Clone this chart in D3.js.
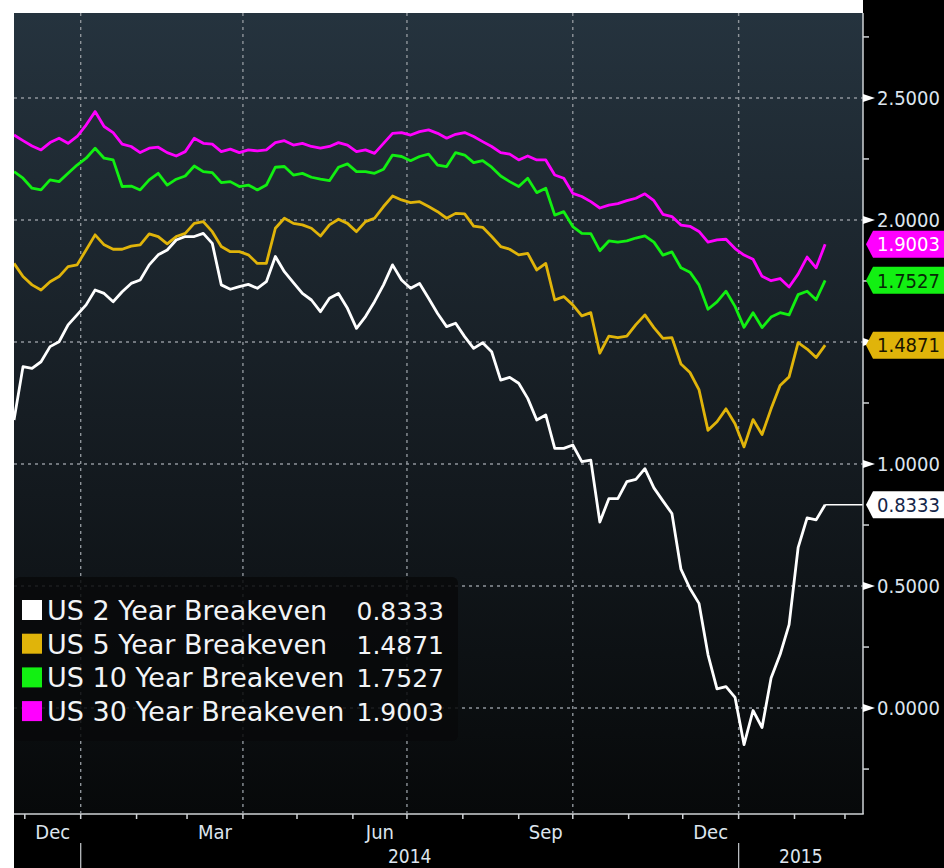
<!DOCTYPE html>
<html>
<head>
<meta charset="utf-8">
<script src="https://cdn.jsdelivr.net/npm/d3@7"></script>
<style>
body { margin: 0; background: #fff; }
svg { display: block; }
</style>
</head>
<body>
<svg id="drawing_region"></svg>
<script>
// values, one every 5 days from firstDate
const seriesNames = ['US 2 Year Breakeven', 'US 5 Year Breakeven', 'US 10 Year Breakeven', 'US 30 Year Breakeven'];
const firstDate = '2013-11-25';
const stepDays = 5;

const us2y = [
    1.180, 1.399, 1.392, 1.419, 1.481, 1.501, 1.570, 1.611, 1.652, 1.713,
    1.699, 1.665, 1.706, 1.740, 1.754, 1.816, 1.857, 1.877, 1.918, 1.932,
    1.932, 1.945, 1.904, 1.734, 1.716, 1.727, 1.736, 1.720, 1.747, 1.850,
    1.788, 1.743, 1.699, 1.672, 1.624, 1.679, 1.699, 1.638, 1.556, 1.604,
    1.665, 1.734, 1.816, 1.754, 1.720, 1.740, 1.679, 1.617, 1.563, 1.577,
    1.522, 1.474, 1.497, 1.460, 1.344, 1.355, 1.331, 1.269, 1.180, 1.201,
    1.064, 1.064, 1.078, 1.010, 1.016, 0.762, 0.858, 0.858, 0.928, 0.937,
    0.981, 0.902, 0.849, 0.797, 0.569, 0.490, 0.429, 0.219, 0.079, 0.088,
    0.044, -0.150, -0.010, -0.080, 0.123, 0.219, 0.342, 0.657, 0.779, 0.771, 0.8333
];
const us5y = [
    1.822, 1.768, 1.734, 1.713, 1.747, 1.768, 1.809, 1.816, 1.877, 1.939,
    1.898, 1.880, 1.880, 1.893, 1.898, 1.943, 1.932, 1.902, 1.932, 1.945,
    1.986, 1.993, 1.952, 1.891, 1.870, 1.870, 1.857, 1.822, 1.822, 1.966,
    2.007, 1.986, 1.980, 1.966, 1.934, 1.980, 2.003, 1.986, 1.952, 1.993,
    2.007, 2.055, 2.098, 2.082, 2.071, 2.075, 2.055, 2.034, 2.007, 2.027,
    2.025, 1.975, 1.970, 1.932, 1.891, 1.880, 1.857, 1.863, 1.795, 1.822,
    1.672, 1.686, 1.652, 1.607, 1.620, 1.454, 1.524, 1.518, 1.524, 1.571,
    1.611, 1.559, 1.515, 1.518, 1.410, 1.375, 1.305, 1.138, 1.173, 1.226,
    1.165, 1.070, 1.182, 1.121, 1.226, 1.322, 1.357, 1.497, 1.471, 1.436, 1.4871
];
const us10y = [
    2.198, 2.171, 2.130, 2.123, 2.164, 2.157, 2.191, 2.225, 2.253, 2.294,
    2.253, 2.246, 2.137, 2.139, 2.123, 2.164, 2.191, 2.143, 2.167, 2.180,
    2.221, 2.198, 2.194, 2.153, 2.157, 2.137, 2.143, 2.123, 2.143, 2.216,
    2.219, 2.184, 2.191, 2.175, 2.167, 2.161, 2.216, 2.230, 2.198, 2.198,
    2.191, 2.208, 2.266, 2.260, 2.243, 2.260, 2.270, 2.225, 2.219, 2.276,
    2.266, 2.235, 2.243, 2.216, 2.180, 2.157, 2.137, 2.171, 2.112, 2.130,
    2.020, 2.034, 1.973, 1.945, 1.944, 1.874, 1.914, 1.909, 1.914, 1.926,
    1.935, 1.909, 1.856, 1.869, 1.804, 1.786, 1.734, 1.634, 1.664, 1.708,
    1.646, 1.560, 1.620, 1.559, 1.602, 1.620, 1.611, 1.694, 1.708, 1.673, 1.7527
];
const us30y = [
    2.348, 2.325, 2.303, 2.287, 2.317, 2.335, 2.314, 2.342, 2.389, 2.444,
    2.383, 2.358, 2.311, 2.301, 2.276, 2.294, 2.298, 2.276, 2.262, 2.280,
    2.335, 2.314, 2.311, 2.280, 2.290, 2.276, 2.287, 2.283, 2.287, 2.317,
    2.325, 2.307, 2.314, 2.301, 2.294, 2.301, 2.317, 2.307, 2.280, 2.287,
    2.273, 2.314, 2.355, 2.358, 2.348, 2.362, 2.369, 2.355, 2.335, 2.351,
    2.358, 2.342, 2.321, 2.301, 2.276, 2.270, 2.246, 2.262, 2.246, 2.246,
    2.184, 2.171, 2.109, 2.096, 2.075, 2.049, 2.061, 2.067, 2.079, 2.089,
    2.107, 2.079, 2.023, 2.014, 1.979, 1.974, 1.953, 1.909, 1.918, 1.921,
    1.883, 1.856, 1.839, 1.769, 1.751, 1.760, 1.725, 1.778, 1.848, 1.804, 1.9003
];

const xDomain = ['2013-11-25', '2015-03-11'];
const yDomain = [-0.43, 2.848];
const yTicks = [0, 0.5, 1, 1.5, 2, 2.5];
const yMinorTicks = [-0.25, 0.25, 0.75, 1.25, 1.75, 2.25, 2.75];
const monthLabels = ['2013-12', '2014-03', '2014-06', '2014-09', '2014-12'];
const yearLabels = ['2014', '2015'];

const config = {
    parent: '#drawing_region',
    width: 944,
    height: 868,
    plot: {left: 14, top: 13, right: 863, bottom: 813},
    colors: ['#ffffff', '#e0b40a', '#12f012', '#ff00ff'],
    tagText: ['#14264a', '#1a1500', '#062a06', '#ffffff'],
    labelColor: '#dde5ee',
    axisFont: '"DejaVu Sans Condensed", "DejaVu Sans", sans-serif',
    legendFont: '"DejaVu Sans", sans-serif'
};

const parseDay = d3.timeParse('%Y-%m-%d');
const parseMonth = d3.timeParse('%Y-%m');
const start = parseDay(firstDate);
const dates = us2y.map((_, i) => d3.timeDay.offset(start, i * stepDays));
const series = [us2y, us5y, us10y, us30y].map((values, k) => ({
    name: seriesNames[k],
    color: config.colors[k],
    tagText: config.tagText[k],
    values: values.map((v, i) => ({date: dates[i], value: v}))
}));

class BreakevenChart {
    constructor(config, series) {
        this.config = config;
        this.series = series;
        this.init();
    }
    init() {
        let self = this;
        const c = self.config, p = c.plot;

        self.svg = d3.select(c.parent)
            .attr('width', c.width)
            .attr('height', c.height);

        const defs = self.svg.append('defs');
        const grad = defs.append('linearGradient')
            .attr('id', 'bg').attr('x1', 0).attr('y1', 0).attr('x2', 0).attr('y2', 1);
        grad.append('stop').attr('offset', '0%').attr('stop-color', '#25333e');
        grad.append('stop').attr('offset', '50%').attr('stop-color', '#161d23');
        grad.append('stop').attr('offset', '100%').attr('stop-color', '#07090a');
        defs.append('clipPath').attr('id', 'clip')
            .append('rect')
            .attr('x', p.left).attr('y', p.top)
            .attr('width', p.right - p.left).attr('height', p.bottom - p.top);

        self.xscale = d3.scaleTime()
            .domain(xDomain.map(parseDay))
            .range([p.left, p.right]);
        self.yscale = d3.scaleLinear()
            .domain(yDomain)
            .range([p.bottom, p.top]);
    }
    render() {
        let self = this;
        const c = self.config, p = c.plot;
        const x = self.xscale, y = self.yscale;
        const svg = self.svg;
        const lastValue = s => s.values[s.values.length - 1].value;
        const fmt = d3.format('.4f');

        // panel backgrounds
        svg.append('rect').attr('width', c.width).attr('height', c.height).attr('fill', '#fff');
        svg.append('rect').attr('x', p.right).attr('y', 0)
            .attr('width', c.width - p.right).attr('height', c.height).attr('fill', '#000');
        svg.append('rect').attr('x', p.left).attr('y', p.bottom)
            .attr('width', c.width - p.left).attr('height', c.height - p.bottom).attr('fill', '#000');
        svg.append('rect').attr('x', p.left).attr('y', p.top)
            .attr('width', p.right - p.left).attr('height', p.bottom - p.top)
            .attr('fill', 'url(#bg)');

        // grid
        const grid = svg.append('g')
            .attr('stroke', '#8e949a').attr('stroke-width', 1.4).attr('stroke-dasharray', '3,4');
        grid.selectAll('.hg').data(yTicks).join('line')
            .attr('x1', p.left).attr('x2', p.right)
            .attr('y1', d => y(d)).attr('y2', d => y(d));
        const quarters = d3.timeMonth.every(3).range(x.domain()[0], x.domain()[1]);
        grid.selectAll('.vg').data(quarters).join('line')
            .attr('x1', d => x(d)).attr('x2', d => x(d))
            .attr('y1', p.top).attr('y2', p.bottom);

        // lines
        const line = d3.line().x(d => x(d.date)).y(d => y(d.value));
        const lines = svg.append('g').attr('clip-path', 'url(#clip)');
        lines.selectAll('path').data(self.series.slice().reverse()).join('path')
            .attr('d', d => line(d.values))
            .attr('fill', 'none')
            .attr('stroke', d => d.color)
            .attr('stroke-width', 2.8)
            .attr('stroke-linejoin', 'round');
        // 2 year last value carried to the axis
        const s2 = self.series[0];
        const last2 = s2.values[s2.values.length - 1];
        lines.append('line')
            .attr('x1', x(last2.date)).attr('x2', p.right)
            .attr('y1', y(last2.value)).attr('y2', y(last2.value))
            .attr('stroke', s2.color).attr('stroke-width', 1.6);

        // legend
        const lg = svg.append('g');
        lg.append('rect')
            .attr('x', p.left).attr('y', 577).attr('width', 444).attr('height', 164)
            .attr('rx', 6).attr('fill', 'rgba(8,9,10,0.86)');
        const rows = lg.selectAll('.row').data(self.series).join('g')
            .attr('transform', (d, i) => `translate(0, ${610 + i * 33.7})`);
        rows.append('rect')
            .attr('x', 22).attr('y', -10).attr('width', 20).attr('height', 20)
            .attr('fill', d => d.color);
        rows.append('text')
            .attr('x', 47).attr('y', 10)
            .attr('fill', '#f2f4f6')
            .style('font', `27px ${c.legendFont}`)
            .text(d => d.name);
        rows.append('text')
            .attr('x', 444).attr('y', 10)
            .attr('text-anchor', 'end')
            .attr('fill', '#f2f4f6')
            .style('font', `25px ${c.legendFont}`)
            .text(d => fmt(lastValue(d)));

        // right axis
        const ax = svg.append('g');
        ax.append('line')
            .attr('x1', p.right).attr('x2', p.right).attr('y1', p.top).attr('y2', p.bottom + 1)
            .attr('stroke', '#cfd3d6').attr('stroke-width', 1.5);
        ax.selectAll('.minor').data(yMinorTicks).join('line')
            .attr('x1', p.right).attr('x2', p.right + 6)
            .attr('y1', d => y(d)).attr('y2', d => y(d))
            .attr('stroke', '#cfd3d6').attr('stroke-width', 1.5);
        ax.selectAll('.tri').data(yTicks).join('path')
            .attr('d', d => `M${p.right},${y(d) - 4}L${p.right + 12},${y(d)}L${p.right},${y(d) + 4}Z`)
            .attr('fill', '#fff');
        // tick labels hidden behind a last-value tag are left out
        const tagYs = self.series.map(s => y(lastValue(s)));
        const shownTicks = yTicks.filter(t => tagYs.every(ty => Math.abs(y(t) - ty) > 20));
        ax.selectAll('.lab').data(shownTicks).join('text')
            .attr('x', p.right + 14).attr('y', d => y(d))
            .attr('dy', '0.36em')
            .attr('fill', c.labelColor)
            .style('font', `20px ${c.axisFont}`)
            .text(d => fmt(d));

        // bottom axis
        ax.append('line')
            .attr('x1', p.left).attr('x2', p.right + 0.75).attr('y1', p.bottom + 1).attr('y2', p.bottom + 1)
            .attr('stroke', '#cfd3d6').attr('stroke-width', 1.5);
        const months = d3.timeMonth.range(x.domain()[0], x.domain()[1]);
        ax.selectAll('.mt').data(months).join('line')
            .attr('x1', d => x(d)).attr('x2', d => x(d))
            .attr('y1', p.bottom + 1).attr('y2', p.bottom + 6)
            .attr('stroke', '#cfd3d6').attr('stroke-width', 1.5);
        ax.selectAll('.ml').data(monthLabels.map(parseMonth)).join('text')
            .attr('x', d => (x(d) + x(d3.timeMonth.offset(d, 1))) / 2)
            .attr('y', 839)
            .attr('text-anchor', 'middle')
            .attr('fill', c.labelColor)
            .style('font', `20px ${c.axisFont}`)
            .text(d => d3.timeFormat('%b')(d));
        const years = yearLabels.map(s => new Date(+s, 0, 1));
        ax.selectAll('.ys').data(years).join('line')
            .attr('x1', d => x(d)).attr('x2', d => x(d))
            .attr('y1', 843).attr('y2', c.height)
            .attr('stroke', '#b8bcc0').attr('stroke-width', 1.3);
        ax.selectAll('.yl').data(years).join('text')
            .attr('x', d => (Math.max(x(d), p.left) + Math.min(x(d3.timeYear.offset(d, 1)), p.right)) / 2)
            .attr('y', 863)
            .attr('text-anchor', 'middle')
            .attr('fill', c.labelColor)
            .style('font', `19px ${c.axisFont}`)
            .text(d => d3.timeFormat('%Y')(d));

        // last value tags
        const tags = svg.append('g').selectAll('g').data(self.series).join('g')
            .attr('transform', d => `translate(0, ${y(lastValue(d))})`);
        tags.append('path')
            .attr('d', `M${p.right + 3},0L${p.right + 10},-13.5L${c.width},-13.5L${c.width},13.5L${p.right + 10},13.5Z`)
            .attr('fill', d => d.color);
        tags.append('text')
            .attr('x', p.right + 14).attr('dy', '0.36em')
            .attr('fill', d => d.tagText)
            .style('font', `20px ${c.axisFont}`)
            .text(d => fmt(lastValue(d)));
    }
}

const chart = new BreakevenChart(config, series);
chart.render();
</script>
</body>
</html>
